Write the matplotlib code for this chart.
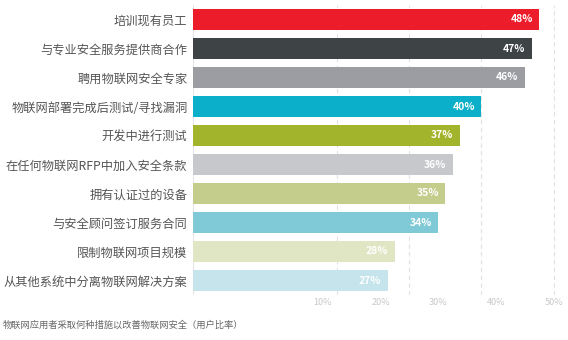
import numpy as np
import matplotlib
matplotlib.use('Agg')
import matplotlib.pyplot as plt

plt.rcParams['font.family'] = ['Noto Sans CJK SC', 'DejaVu Sans']

categories = ['培训现有员工', '与专业安全服务提供商合作', '聘用物联网安全专家',
              '物联网部署完成后测试/寻找漏洞', '开发中进行测试', '在任何物联网RFP中加入安全条款',
              '拥有认证过的设备', '与安全顾问签订服务合同', '限制物联网项目规模',
              '从其他系统中分离物联网解决方案']
values = [48, 47, 46, 40, 37, 36, 35, 34, 28, 27]
colors = ['#ED1C2A', '#3E4346', '#9B9DA2', '#0BAFC9', '#A2B42C', '#C6C8CC',
          '#C4CD8C', '#7FCAD6', '#E0E5C3', '#C5E4EC']
tick_labels = ['10%', '20%', '30%', '40%', '50%']
grid_values = [20, 30, 40, 50]
footnote = '物联网应用者采取何种措施以改善物联网安全（用户比率）'

fig = plt.figure(figsize=(5.68, 3.40), dpi=100)
ax = fig.add_axes([193/568, 1-295/340, 1-193/568, 290/340])

y = np.arange(len(values))
ax.barh(y, values, height=0.72, color=colors, zorder=2)

for v in grid_values:
    ax.axvline(v, color='#E2E2E2', lw=0.8, ls=(0, (4, 3)), zorder=1)
ax.axvline(0, color='#E6E6E6', lw=0.8, zorder=1)

for i, v in enumerate(values):
    ax.text(v - 0.9, i, '%d%%' % v, ha='right', va='center', color='white',
            fontsize=7.5, fontweight='bold', zorder=3)

ax.set_xlim(0, 52)
ax.set_ylim(len(values) - 0.5, -0.5)
ax.set_yticks(y)
ax.set_yticklabels(categories, fontsize=8.8, color='#555555')
# tick labels sit where the source image drew them
ax.set_xticks([18, 26, 34, 42, 50])
ax.set_xticklabels(tick_labels, fontsize=6.5, color='#C8C8C8')
ax.tick_params(length=0, axis='both')
ax.tick_params(axis='y', pad=4)
ax.tick_params(axis='x', pad=2)
for s in ax.spines.values():
    s.set_visible(False)

fig.text(3/568, 1-325/340, footnote, fontsize=6.7, color='#666666', va='center')

fig.savefig('out.png', dpi=100)
